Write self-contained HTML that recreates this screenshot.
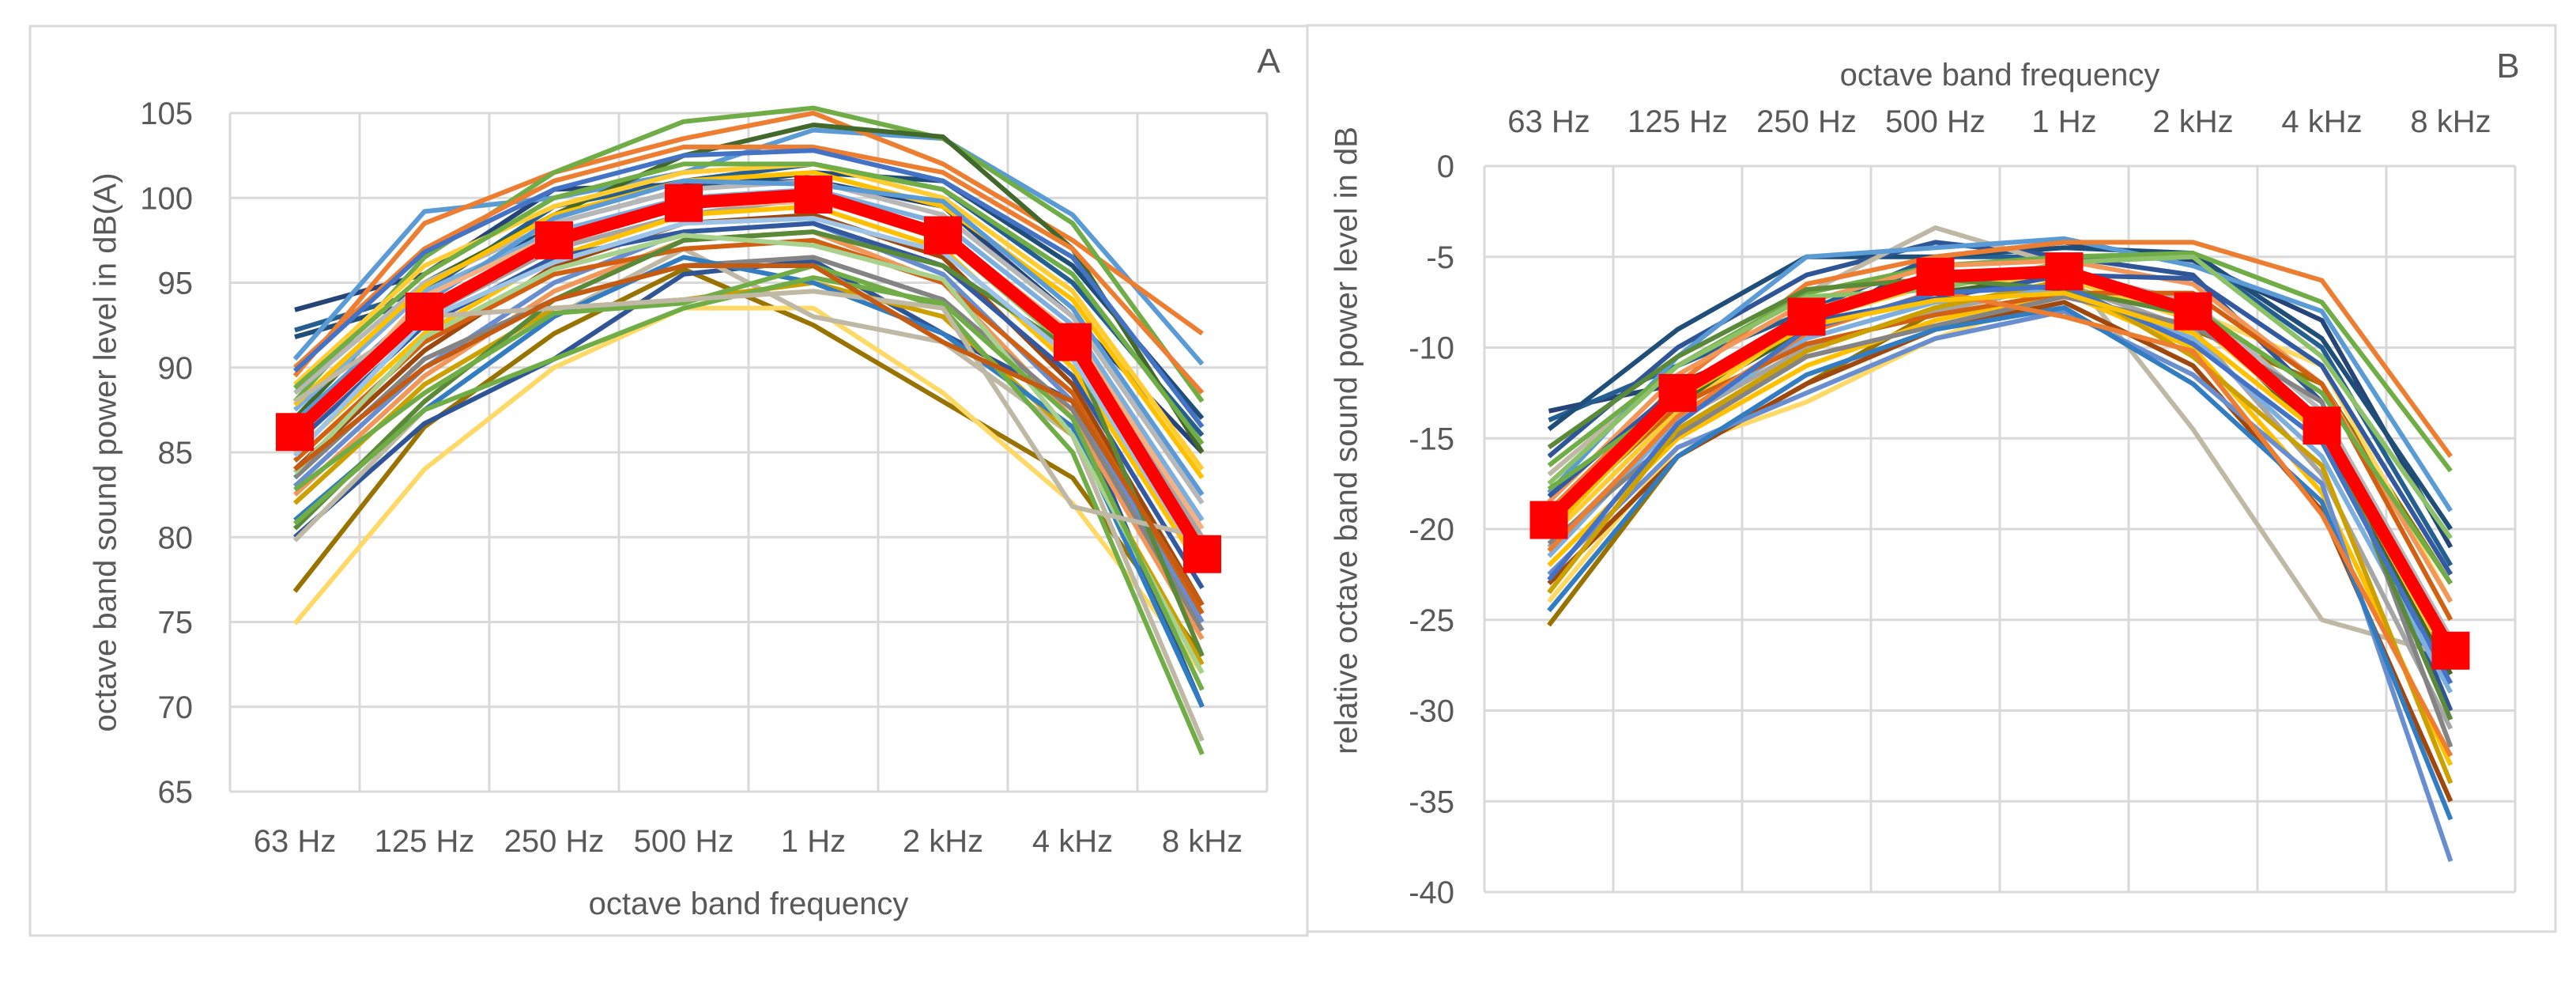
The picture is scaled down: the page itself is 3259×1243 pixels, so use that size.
<!DOCTYPE html>
<html><head><meta charset="utf-8"><style>
html,body{margin:0;padding:0;background:#fff;}
svg{display:block;font-family:"Liberation Sans",sans-serif;}
</style></head><body>
<svg id="s" width="3259" height="1243" viewBox="0 0 3259 1243" xmlns="http://www.w3.org/2000/svg">
<rect x="38" y="33" width="1616" height="1150" fill="#fff" stroke="#d9d9d9" stroke-width="3"/>
<rect x="1654" y="32" width="1579" height="1146" fill="#fff" stroke="#d9d9d9" stroke-width="3"/>
<g id="ga"></g>
<g id="gb"></g>
<text x="1605" y="92" font-size="44" fill="#595959" text-anchor="middle">A</text>
<text x="3173" y="98" font-size="44" fill="#595959" text-anchor="middle">B</text>
<text x="136" y="572" font-size="40" fill="#595959" text-anchor="middle" transform="rotate(-90 136 572)" dominant-baseline="middle">octave band sound power level in dB(A)</text>
<text x="1706" y="557" font-size="40" fill="#595959" text-anchor="middle" transform="rotate(-90 1706 557)" dominant-baseline="middle">relative octave band sound power level in dB</text>
<text x="947" y="1156" font-size="40" fill="#595959" text-anchor="middle">octave band frequency</text>
<text x="2530" y="108" font-size="40" fill="#595959" text-anchor="middle">octave band frequency</text>
</svg>
<script>
const categories=["63 Hz","125 Hz","250 Hz","500 Hz","1 Hz","2 kHz","4 kHz","8 kHz"];
const ticksA=[65,70,75,80,85,90,95,100,105];
const ticksB=[-40,-35,-30,-25,-20,-15,-10,-5,0];
const meanA=[86.2,93.3,97.5,99.7,100.2,97.8,91.5,79.0];
const meanB=[-19.5,-12.5,-8.3,-6.1,-5.8,-8.0,-14.3,-26.7];
const seriesA=[
[93.4,95.5,100.5,100.8,101.0,99.5,93,85],[92.2,94.5,99.5,101,102,100.5,95,86],[91.8,94,98.5,100.5,101.5,101,96,87],
[76.8,86.5,92,95.8,92.5,88,83.5,73],[74.9,84,90,93.5,93.5,88.5,82,72],[80,86.7,90.5,95.5,96.3,92,88,70],
[79.8,87.5,93,97,93,91.5,86,68],[90.5,99.2,100,101.5,104,103.5,99,90.2],[89.5,98.5,101.5,103.5,105,102,97.5,92],
[88,96.5,101.5,104.5,105.3,103.5,98.5,88],[87,95,99,102.5,104.3,103.6,97,85],[86,93,97,99,100,98,92,80],
[85,92,96.5,99,99.5,97,90,78],[84,91,96,98.5,99,96.5,89,76],[83,90,95,98,98.5,95.5,88,75],
[82.5,89.5,94.5,97.5,98,95,87,74],[88.5,95,98.5,100.5,101,99,93,82],[89,96,99.5,101.5,102,100,94.5,84],
[87.5,94.5,98,100,100.5,98.5,92.5,81],[86.5,93.5,97.5,99.5,100,97.5,91,79],[85.5,92.5,96.5,98,98.5,96,89.5,77],
[84.5,91.5,95.5,97,97.5,95,88.5,75.5],[83.5,90.5,94,96,96.5,94,87.5,74.5],[82,89,93.5,94,95,93,86,72.5],
[81,87.5,93,96.5,95,92,86.5,70],[80.5,88,94,97.5,98,96,91,73],[90,97,101,103,103,101.5,97,88.5],
[89.8,96.8,100.5,102.5,102.8,101,96.5,86.5],[88.8,95.5,100,102,102,100.5,95.5,85.5],[87.8,94.8,99,101,101.5,99.5,94,83.5],
[86.8,93.8,98.8,101,100.8,99.8,93.5,82.5],[85.8,94.2,97.8,99.5,99.8,98,92,80.5],[84.8,92.8,96.2,98.5,98.8,96.8,90.5,78.5],
[83.8,91.8,95.8,97.8,97.2,95.2,86,72],[82.8,88.5,93.2,93.8,96,93.5,85,67.2],[80.8,87.5,90.5,93.5,95.3,93.8,87,71],
[88,93,93.5,94,94.5,93.5,81.8,80],[84,90,94,96,96,91.5,88,76]];
const seriesB=[
[-13.5,-12,-9,-5,-4.2,-5.2,-8.5,-21],[-14,-11,-8,-5,-5,-5,-10,-22],[-14.5,-9,-5,-5,-4.5,-4.8,-9.5,-20],
[-25.3,-16,-12,-8,-6.5,-9,-12,-23],[-24,-15.5,-13,-9.5,-7,-8,-11,-24],[-16,-10,-6,-4.2,-5,-6,-13,-30],
[-17,-11,-7,-3.4,-5.5,-14.5,-25,-27],[-18,-10.5,-5,-4.5,-4,-5.5,-8,-19],[-19,-12,-6.5,-5,-4.2,-4.2,-6.3,-16],
[-16.5,-11,-7,-5.5,-5,-4.8,-7.5,-16.8],[-20,-13,-9,-7,-6,-8,-15,-28],[-21,-14,-10,-8,-6.5,-9,-17,-31],
[-22,-15,-11,-8.5,-7,-10,-18,-33],[-23,-16,-12,-9,-7.5,-11,-19,-35],[-22.5,-15.5,-12.5,-9.5,-8,-11.5,-17.5,-38.3],
[-18.5,-11.5,-7.5,-5.5,-5.2,-6.5,-12,-24],[-19.5,-12.5,-8,-6,-5.8,-7.5,-13.5,-26],[-20.5,-13.5,-8.5,-6.5,-6.2,-8.5,-14.5,-27.5],
[-21.5,-14,-9.5,-7.5,-6.8,-9.5,-16,-29],[-17.5,-11,-7.2,-6.8,-5.3,-5,-10.5,-20.5],[-18.2,-12.2,-8.6,-7.3,-6,-6.2,-11,-22.5],
[-19.8,-13.2,-9.8,-8.2,-7,-7,-12,-25],[-20.8,-14.8,-10.5,-8.8,-7.2,-8.8,-13,-32],[-23.5,-14.5,-10.2,-7.8,-6.3,-10.5,-16.5,-34],
[-24.5,-16,-11.5,-9,-7.8,-12,-18.5,-36],[-15.5,-10.5,-6.8,-6.2,-6.8,-8.2,-14,-30.5],[-21.2,-13.8,-9.2,-6.9,-8.3,-10.2,-19.2,-32.5],
[-22.8,-14.2,-9,-7,-6.6,-9.8,-15.2,-28.5],[-17.8,-12.8,-8.2,-6.4,-5.6,-7.8,-12.5,-23],[-20.2,-12.8,-8.8,-7.4,-7,-9.2,-14.8,-26.5]];
const palette=["#264478","#255E91","#1F4E79","#997300","#FFD966","#2F5597","#BFB8A5","#5B9BD5","#ED7D31","#70AD47","#43682B","#A5A5A5","#FFC000","#9E480E","#698ED0","#F1975A","#B7B7B7","#FFCD33","#7CAFDD","#8CC168","#335AA1","#D26012","#848484","#CCA000","#327DC2","#5A8A39","#ED7D31","#4472C4","#70AD47","#FFC000","#5B9BD5","#F4B183","#9DC3E6","#A9D18E","#70AD47","#70AD47","#BFB8A5","#C55A11"];
const NS="http://www.w3.org/2000/svg";
function el(t,a,p){const e=document.createElementNS(NS,t);for(const k in a)e.setAttribute(k,a[k]);p.appendChild(e);return e;}
function draw(g,cfg){
  const {left,right,top,bottom,ymin,ymax,ticks,series,mean,labelY,yLabelX}=cfg;
  const step=(right-left)/categories.length;
  const xs=i=>left+step*(i+0.5);
  const ys=v=>bottom-(v-ymin)/(ymax-ymin)*(bottom-top);
  ticks.forEach(t=>{
    const l=el('line',{x1:left,x2:right,y1:ys(t),y2:ys(t),stroke:'#d9d9d9','stroke-width':3},g);
    
    
    const tx=el('text',{x:yLabelX,y:ys(t)+14,'font-size':40,fill:'#595959','text-anchor':'end'},g);
    tx.textContent=t;
    
    
  });
  for(let i=0;i<=categories.length;i++){
    const l=el('line',{x1:left+step*i,x2:left+step*i,y1:top,y2:bottom,stroke:'#d9d9d9','stroke-width':3},g);
    
    
  }
  categories.forEach((c,i)=>{
    const tx=el('text',{x:xs(i),y:labelY,'font-size':40,fill:'#595959','text-anchor':'middle'},g);
    tx.textContent=c;
    
    
  });
  series.forEach((s,k)=>{
    const p=el('polyline',{points:s.map((v,i)=>xs(i)+','+ys(v)).join(' '),fill:'none',stroke:palette[k%palette.length],'stroke-width':6,'stroke-linejoin':'round'},g);
    
    
  });
  const m=el('polyline',{points:mean.map((v,i)=>xs(i)+','+ys(v)).join(' '),fill:'none',stroke:'#ff0000','stroke-width':16,'stroke-linejoin':'round'},g);
  
  
  mean.forEach((v,i)=>{
    const r=el('rect',{x:xs(i)-24,y:ys(v)-24,width:48,height:48,fill:'#ff0000'},g);
    
    
  });
}
draw(document.getElementById('ga'),{left:291,right:1603,top:143,bottom:1001,ymin:65,ymax:105,ticks:ticksA,series:seriesA,mean:meanA,labelY:1077,yLabelX:244});
draw(document.getElementById('gb'),{left:1878,right:3182,top:210,bottom:1128,ymin:-40,ymax:0,ticks:ticksB,series:seriesB,mean:meanB,labelY:167,yLabelX:1840});
</script>
</body></html>
